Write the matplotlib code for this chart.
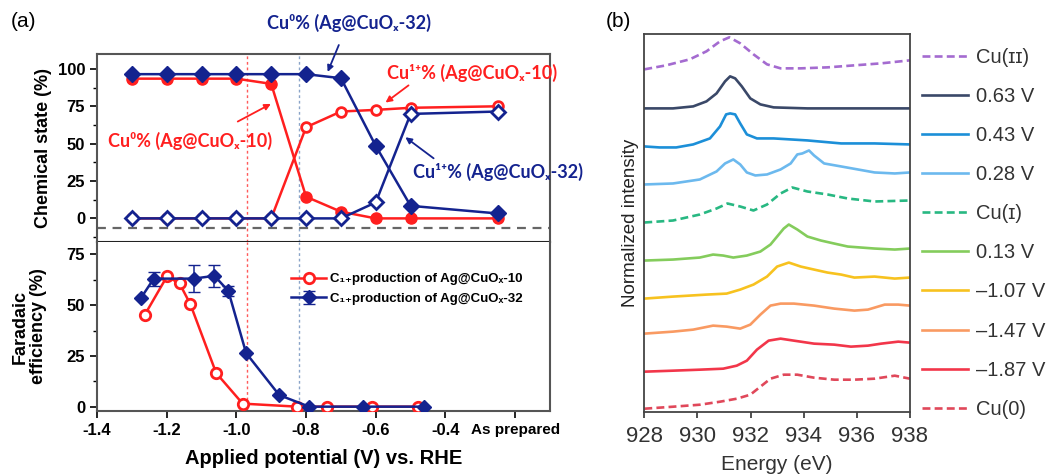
import numpy as np
import matplotlib
matplotlib.use("Agg")
import matplotlib.pyplot as plt
from matplotlib.ticker import MultipleLocator

plt.rcParams['font.family'] = ['Liberation Sans', 'DejaVu Sans']
plt.rcParams['axes.unicode_minus'] = False

# ---------------- (a) chemical state vs. potential ----------------
pot = [-1.3, -1.2, -1.1, -1.0, -0.9, -0.8, -0.7, -0.6, -0.5, -0.25]
cu0_32 = [96.5, 96.5, 96.5, 96.5, 96.5, 96.5, 93.8, 48.5, 8.4, 3.3]
cu1_32 = [0, 0, 0, 0, 0, 0, 0, 10.7, 69.9, 71.5]
cu0_10 = [93.5, 93.5, 93.5, 93.5, 90, 14.5, 4.5, 0, 0, 0]
cu1_10 = [0, 0, 0, 0, 0, 61, 71.5, 72.6, 74, 75]

# faradaic efficiency of C1+ products
fe10_pot = [-1.263, -1.199, -1.163, -1.132, -1.058, -0.982, -0.825, -0.739, -0.612, -0.479]
fe10 = [45.2, 64.2, 60.7, 50.5, 16.6, 1.5, 0, 0, 0, 0]
fe32_pot = [-1.274, -1.237, -1.122, -1.063, -1.023, -0.972, -0.877, -0.791, -0.636, -0.463]
fe32 = [53.5, 63.1, 63.1, 64.5, 57, 26.4, 5.7, 0, 0, 0]
fe32_err = [0, 3.5, 6.5, 5.5, 2.5, 0, 0, 0, 0, 0]

xticks = [-1.4, -1.2, -1.0, -0.8, -0.6, -0.4, -0.2]
xticklabels = ['-1.4', '-1.2', '-1.0', '-0.8', '-0.6', '-0.4', 'As prepared']
onset_10 = -0.97
onset_32 = -0.82

# ---------------- (b) Cu L-edge spectra ----------------
cu2_e = [928.0, 928.82, 929.71, 930.34, 930.85, 931.2, 931.61, 932.11, 932.62, 933.13, 933.89, 934.9, 935.91, 936.92, 938.0]
cu2_i = [3.42, 3.46, 3.52, 3.60, 3.70, 3.74, 3.68, 3.57, 3.47, 3.43, 3.43, 3.44, 3.46, 3.48, 3.51]
v063_e = [928.0, 929.08, 929.84, 930.34, 930.72, 931.04, 931.23, 931.42, 931.67, 931.99, 932.37, 932.87, 934.14, 935.41, 938.0]
v063_i = [3.03, 3.03, 3.05, 3.10, 3.18, 3.30, 3.35, 3.33, 3.25, 3.13, 3.07, 3.04, 3.03, 3.03, 3.03]
v043_e = [928.0, 928.57, 929.2, 929.84, 930.47, 930.85, 931.08, 931.23, 931.42, 931.61, 931.86, 932.24, 932.87, 933.51, 934.14, 935.41, 936.67, 938.0]
v043_i = [2.65, 2.64, 2.64, 2.67, 2.73, 2.85, 2.97, 2.98, 2.97, 2.88, 2.77, 2.73, 2.73, 2.72, 2.71, 2.68, 2.68, 2.67]
v028_e = [928.0, 929.08, 930.09, 930.72, 931.04, 931.35, 931.61, 931.86, 932.18, 932.62, 933.13, 933.51, 933.76, 933.95,
          934.2, 934.39, 934.77, 935.41, 936.04, 936.67, 937.43, 938.0]
v028_i = [2.27, 2.28, 2.32, 2.40, 2.48, 2.52, 2.47, 2.39, 2.36, 2.37, 2.42, 2.48, 2.57, 2.58,
          2.61, 2.56, 2.48, 2.45, 2.42, 2.39, 2.38, 2.39]
cu1_e = [928.0, 929.08, 930.09, 930.72, 931.13, 931.61, 932.11, 932.62, 933.13, 933.57, 934.14, 934.9, 935.66, 936.67, 938.0]
cu1_i = [1.89, 1.91, 1.97, 2.03, 2.08, 2.05, 2.01, 2.07, 2.18, 2.24, 2.20, 2.17, 2.13, 2.10, 2.11]
v013_e = [928.0, 929.08, 930.09, 930.59, 930.97, 931.35, 931.86, 932.37, 932.75, 933.0, 933.25, 933.44, 933.76, 934.14,
          934.65, 935.15, 935.66, 936.67, 937.43, 938.0]
v013_i = [1.51, 1.52, 1.54, 1.57, 1.56, 1.54, 1.56, 1.60, 1.67, 1.75, 1.83, 1.87, 1.82, 1.75,
          1.71, 1.68, 1.65, 1.63, 1.62, 1.63]
vm107_e = [928.0, 929.08, 930.34, 931.1, 931.61, 932.11, 932.62, 933.0, 933.44, 933.89, 934.39, 934.9, 935.41, 935.91,
           936.67, 937.43, 938.0]
vm107_i = [1.13, 1.15, 1.17, 1.18, 1.22, 1.27, 1.35, 1.45, 1.49, 1.45, 1.42, 1.39, 1.37, 1.34, 1.35, 1.33, 1.34]
vm147_e = [928.0, 929.08, 929.84, 930.59, 931.1, 931.61, 931.99, 932.37, 932.75, 933.13, 933.63, 934.39, 935.15, 935.91,
           936.42, 937.05, 937.56, 938.0]
vm147_i = [0.78, 0.80, 0.82, 0.86, 0.85, 0.83, 0.87, 0.97, 1.06, 1.08, 1.08, 1.06, 1.03, 1.01, 1.02, 1.07, 1.07, 1.06]
vm187_e = [928.0, 929.08, 930.09, 930.97, 931.48, 931.86, 932.24, 932.68, 933.13, 933.63, 934.39, 935.15, 935.78, 936.42,
           936.92, 937.56, 938.0]
vm187_i = [0.40, 0.41, 0.42, 0.43, 0.46, 0.51, 0.62, 0.71, 0.73, 0.71, 0.68, 0.67, 0.65, 0.66, 0.68, 0.70, 0.69]
cu0_e = [928.0, 929.08, 930.09, 930.85, 931.48, 931.99, 932.37, 932.75, 933.25, 933.76, 934.39, 935.15, 935.91, 936.67,
         937.43, 938.0]
cu0_i = [0.03, 0.05, 0.07, 0.10, 0.13, 0.17, 0.25, 0.33, 0.37, 0.37, 0.34, 0.32, 0.32, 0.33, 0.36, 0.33]

spec_labels = ['Cu(\u026a\u026a)', '0.63 V', '0.43 V', '0.28 V', 'Cu(\u026a)', '0.13 V',
               '\u20131.07 V', '\u20131.47 V', '\u20131.87 V', 'Cu(0)']
spec_colors = ['#a46bd0', '#3a4868', '#1c8fd8', '#6cb9ee', '#28b882', '#84cc5c',
               '#f7c21f', '#f99a62', '#f2364a', '#e0485a']
spec_dashed = [True, False, False, False, True, False, False, False, False, True]

RED = '#ff1f1f'
NAVY = '#14238f'

fig = plt.figure(figsize=(10.62, 4.74), dpi=100)
ax1 = fig.add_axes([0.0913, 0.4888, 0.4266, 0.3973])
ax2 = fig.add_axes([0.0913, 0.1335, 0.4266, 0.3553])
ax3 = fig.add_axes([0.6067, 0.1314, 0.2501, 0.7962])

bold = dict(fontweight='bold')

# top: chemical states
ax1.plot(pot, cu0_10, '-o', color=RED, lw=1.8, ms=8, mfc=RED, mec=RED, zorder=3)
ax1.plot(pot, cu1_10, '-o', color=RED, lw=1.8, ms=7, mfc='white', mec=RED, mew=2, zorder=3)
ax1.plot(pot, cu0_32, '-D', color=NAVY, lw=1.8, ms=8, mfc=NAVY, mec=NAVY, zorder=4)
ax1.plot(pot, cu1_32, '-D', color=NAVY, lw=1.8, ms=7, mfc='white', mec=NAVY, mew=2, zorder=4)
ax1.axhline(-6.7, color='#666666', lw=1.6, ls=(0, (4, 3)))
ax1.set_xlim(-1.4, -0.1)
ax1.set_ylim(-16, 110)
ax1.set_yticks([0, 25, 50, 75, 100])
ax1.yaxis.set_minor_locator(MultipleLocator(12.5))
ax1.set_xticks(xticks)
ax1.tick_params(axis='x', length=0, labelbottom=False)
ax1.set_ylabel('Chemical state (%)', fontsize=13, labelpad=4, **bold)

ann_font = dict(fontsize=13, fontweight='bold', family=['Lato', 'DejaVu Sans'], ha='center', va='center')
arrow = dict(arrowstyle='-|>', lw=1.3, mutation_scale=9, shrinkA=0, shrinkB=0)
ax1.text(-0.677, 131, 'Cu\u2070% (Ag@CuO\u2093-32)', color=NAVY, clip_on=False, **ann_font)
ax1.annotate('', xy=(-0.738, 98), xytext=(-0.706, 116), annotation_clip=False,
             arrowprops=dict(color=NAVY, **arrow))
ax1.text(-0.325, 97, 'Cu\u00b9\u207a% (Ag@CuO\u2093-10)', color=RED, **ann_font)
ax1.annotate('', xy=(-0.572, 77.5), xytext=(-0.506, 89), arrowprops=dict(color=RED, **arrow))
ax1.text(-1.134, 52, 'Cu\u2070% (Ag@CuO\u2093-10)', color=RED, **ann_font)
ax1.annotate('', xy=(-0.901, 76.6), xytext=(-0.996, 64.8), arrowprops=dict(color=RED, **arrow))
ax1.text(-0.25, 31, 'Cu\u00b9\u207a% (Ag@CuO\u2093-32)', color=NAVY, clip_on=False, **ann_font)
ax1.annotate('', xy=(-0.515, 54.3), xytext=(-0.434, 40.2), arrowprops=dict(color=NAVY, **arrow))

# bottom: faradaic efficiency
ax2.plot(fe10_pot, fe10, '-o', color=RED, lw=1.8, ms=7.5, mfc='white', mec=RED, mew=2,
         label='C\u2081\u208aproduction of Ag@CuO\u2093-10', zorder=3)
ax2.errorbar(fe32_pot, fe32, yerr=fe32_err, fmt='-D', color=NAVY, lw=1.8, ms=7.5, ecolor=NAVY,
             elinewidth=1.1, capsize=4, label='C\u2081\u208aproduction of Ag@CuO\u2093-32', zorder=4)
ax2.set_xlim(-1.4, -0.1)
ax2.set_ylim(-2, 81)
ax2.set_yticks([0, 25, 50, 75])
ax2.yaxis.set_minor_locator(MultipleLocator(12.5))
ax2.set_xticks(xticks)
ax2.set_xticklabels(xticklabels)
ax2.set_ylabel('Faradaic\nefficiency (%)', fontsize=13, linespacing=1.1, labelpad=14, **bold)
ax2.set_xlabel('Applied potential (V) vs. RHE', fontsize=14.5, labelpad=8, **bold)
leg = ax2.legend(loc='center left', bbox_to_anchor=(0.428, 0.723), frameon=False, borderpad=0,
                 borderaxespad=0, handlelength=2.7, handletextpad=0.3, labelspacing=0.55,
                 prop=dict(size=9.5, weight='bold'))

for ax in (ax1, ax2):
    ax.axvline(onset_10, color='#ff5a5a', lw=1.0, ls=(0, (2, 2)), zorder=1)
    ax.axvline(onset_32, color='#8aa4c8', lw=1.0, ls=(0, (2, 2)), zorder=1)
    ax.tick_params(axis='both', which='major', direction='out', length=5, width=1.2, labelsize=12)
    ax.tick_params(axis='y', which='minor', direction='out', length=3, width=1.0)
    for lab in ax.get_xticklabels() + ax.get_yticklabels():
        lab.set_fontweight('bold')
    for s in ax.spines.values():
        s.set_color('#555555')
        s.set_linewidth(1.5)
ax1.spines['bottom'].set_color('#222222')
ax2.spines['top'].set_visible(False)
ax2.get_xticklabels()[-1].set_fontsize(11)

# (b) spectra
series_b = [(cu2_e, cu2_i), (v063_e, v063_i), (v043_e, v043_i), (v028_e, v028_i), (cu1_e, cu1_i),
            (v013_e, v013_i), (vm107_e, vm107_i), (vm147_e, vm147_i), (vm187_e, vm187_i), (cu0_e, cu0_i)]
for (e, i), lab, c, dashed in zip(series_b, spec_labels, spec_colors, spec_dashed):
    ax3.plot(e, i, color=c, lw=1.9, ls=(0, (3, 1.6)) if dashed else '-', label=lab)
ax3.set_xlim(928, 938)
ax3.set_ylim(0, 3.77)
ax3.set_xticks([928, 930, 932, 934, 936, 938])
ax3.set_yticks([])
ax3.tick_params(axis='x', direction='out', length=4, width=1.2, labelsize=16, colors='#333333', pad=6)
ax3.set_xlabel('Energy (eV)', fontsize=15, color='#333333', labelpad=6)
ax3.set_ylabel('Normalized intensity', fontsize=13.5, color='#222222', labelpad=4)
for s in ax3.spines.values():
    s.set_color('#444444')
    s.set_linewidth(1.3)
fig.legend(*ax3.get_legend_handles_labels(), loc='center left', bbox_to_anchor=(0.868, 0.508),
           frameon=False, borderpad=0, borderaxespad=0, handlelength=2.3, handletextpad=0.4,
           labelspacing=1.0, prop=dict(size=14.5), labelcolor='#333333')

fig.text(0.010, 0.955, '(a)', fontsize=15, va='center')
fig.text(0.570, 0.955, '(b)', fontsize=15, va='center')

fig.savefig('out.png', dpi=100)
